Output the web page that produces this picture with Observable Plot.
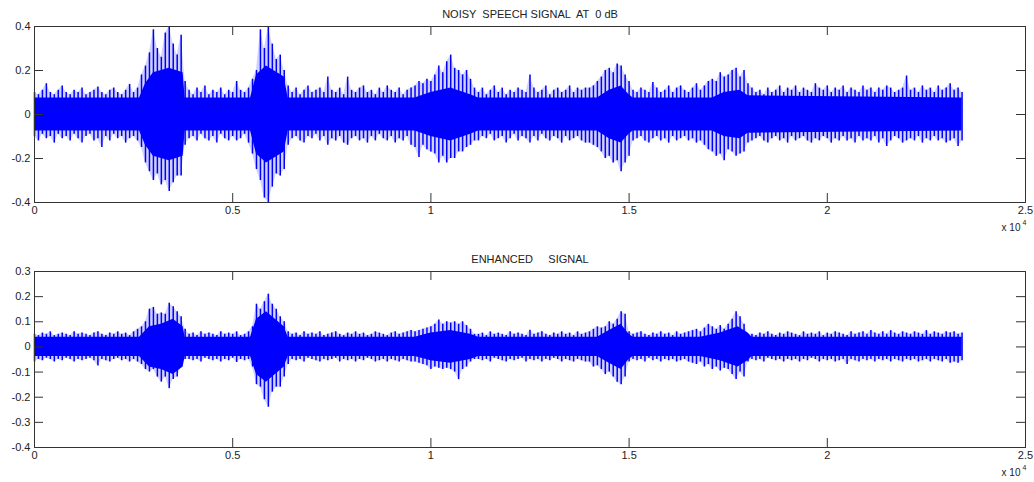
<!DOCTYPE html>
<html><head><meta charset="utf-8">
<script src="https://cdn.jsdelivr.net/npm/d3@7"></script>
<script src="https://cdn.jsdelivr.net/npm/@observablehq/plot@0.6"></script>
<style>
html,body{margin:0;padding:0;background:#fff;overflow:hidden;}
#chart svg{display:block;}
svg text{white-space:pre;}
</style></head><body><div id="chart"></div>
<script>
// sample-bin width (samples) for the peak envelopes below
const binStep = 100;

// NOISY SPEECH SIGNAL AT 0 dB : per-bin positive / negative peaks (bins of 100 samples, 0 .. 23400)
const noisyUpper = [
  0.10,0.09,0.11,0.14,0.10,0.09,0.11,0.13,0.10,0.09,0.11,0.10,0.12,0.09,0.10,0.11,0.125,0.10,0.09,0.11,0.12,0.10,0.09,0.11,0.137,0.10,0.12,
  0.18,0.22,0.28,0.385,0.30,0.26,0.37,0.40,0.32,0.27,0.36,0.15,
  0.11,0.09,0.12,0.10,0.13,0.09,0.11,0.10,0.12,0.09,0.11,0.10,0.15,0.11,0.10,0.12,
  0.16,0.20,0.385,0.30,0.40,0.32,0.25,0.27,0.20,0.13,
  0.10,0.12,0.09,0.11,0.13,0.10,0.11,0.12,0.10,0.17,0.11,0.10,0.12,0.09,0.17,0.11,0.10,0.12,0.13,0.10,0.11,0.09,0.12,0.10,0.13,0.11,0.10,0.12,0.09,0.11,0.12,
  0.13,0.15,0.14,0.16,0.15,0.18,0.22,0.19,0.24,0.27,0.21,0.20,0.18,0.20,0.16,
  0.12,
  0.10,0.12,0.09,0.11,0.13,0.10,0.12,0.09,0.11,0.10,0.12,0.11,0.10,0.18,0.12,0.10,0.11,0.13,0.09,0.11,0.12,0.10,0.11,0.13,0.10,0.12,0.11,0.12,
  0.12,0.13,0.15,0.17,0.20,0.21,0.19,0.23,0.22,0.18,0.15,
  0.11,0.10,0.12,0.11,0.10,0.145,0.12,0.10,0.11,0.13,0.10,0.12,0.13,0.11,0.10,0.12,0.14,0.11,0.13,0.15,
  0.16,0.15,0.19,0.17,0.18,0.20,0.21,0.17,0.20,0.14,
  0.12,0.10,0.11,0.09,0.12,0.10,0.11,0.13,0.10,0.12,
  0.11,0.13,0.10,0.12,0.11,0.10,0.14,0.12,0.11,0.13,
  0.10,0.12,0.11,0.13,0.10,0.12,0.11,0.10,0.13,0.11,
  0.12,0.10,0.12,0.11,0.13,0.12,0.10,0.11,0.12,0.175,
  0.11,0.12,0.10,0.13,0.11,0.12,0.10,0.13,0.11,0.12,
  0.14,0.11,0.12,0.10];
const noisyLower = [
  -0.10,-0.12,-0.09,-0.11,-0.10,-0.13,-0.09,-0.11,-0.10,-0.12,-0.09,-0.11,-0.13,-0.10,-0.09,-0.12,-0.11,-0.15,-0.10,-0.12,-0.09,-0.11,-0.10,-0.13,-0.11,-0.10,-0.12,
  -0.15,-0.22,-0.26,-0.30,-0.27,-0.32,-0.30,-0.35,-0.31,-0.28,-0.28,-0.14,
  -0.11,-0.10,-0.12,-0.09,-0.11,-0.12,-0.10,-0.13,-0.09,-0.11,-0.12,-0.10,-0.12,-0.11,-0.09,-0.13,
  -0.18,-0.25,-0.30,-0.38,-0.40,-0.33,-0.27,-0.28,-0.25,-0.14,
  -0.11,-0.10,-0.12,-0.13,-0.10,-0.11,-0.09,-0.12,-0.10,-0.14,-0.11,-0.12,-0.10,-0.13,-0.14,-0.11,-0.10,-0.12,-0.11,-0.13,-0.10,-0.12,-0.09,-0.11,-0.12,-0.10,-0.13,-0.11,-0.12,-0.10,-0.14,
  -0.15,-0.195,-0.14,-0.16,-0.17,-0.18,-0.22,-0.19,-0.22,-0.20,-0.20,-0.17,-0.17,-0.15,-0.14,
  -0.12,
  -0.12,-0.10,-0.11,-0.09,-0.12,-0.11,-0.10,-0.13,-0.11,-0.09,-0.12,-0.10,-0.11,-0.13,-0.10,-0.12,-0.09,-0.11,-0.12,-0.10,-0.11,-0.13,-0.10,-0.12,-0.11,-0.10,-0.12,-0.13,
  -0.13,-0.14,-0.15,-0.17,-0.20,-0.19,-0.22,-0.21,-0.26,-0.22,-0.19,
  -0.12,-0.11,-0.10,-0.12,-0.13,-0.11,-0.10,-0.12,-0.11,-0.13,-0.10,-0.12,-0.11,-0.10,-0.12,-0.11,-0.13,-0.12,-0.14,-0.16,
  -0.17,-0.19,-0.18,-0.21,-0.16,-0.17,-0.19,-0.18,-0.17,-0.13,
  -0.12,-0.11,-0.10,-0.12,-0.13,-0.11,-0.10,-0.12,-0.11,-0.13,
  -0.10,-0.12,-0.11,-0.10,-0.12,-0.13,-0.11,-0.12,-0.10,-0.11,
  -0.13,-0.11,-0.12,-0.10,-0.12,-0.11,-0.13,-0.10,-0.12,-0.11,
  -0.12,-0.10,-0.13,-0.11,-0.145,-0.12,-0.10,-0.11,-0.13,-0.12,
  -0.11,-0.12,-0.10,-0.13,-0.11,-0.12,-0.10,-0.12,-0.11,-0.13,
  -0.12,-0.11,-0.145,-0.12];
// dense (solid) core amplitude of the noisy signal
const noisyCoreX   = [0,2650,2800,3000,3400,3750,3800,5450,5600,5850,6300,6400,9600,10000,10500,11000,11200,14200,14500,14800,15000,15100,17100,17400,17800,18000,23400];
const noisyCoreAmp = [0.075,0.075,0.14,0.19,0.21,0.19,0.075,0.075,0.18,0.22,0.17,0.075,0.075,0.1,0.12,0.09,0.075,0.075,0.11,0.13,0.09,0.075,0.075,0.1,0.11,0.085,0.075];

// ENHANCED SIGNAL : per-bin positive / negative peaks (bins of 100 samples, 0 .. 23400)
const enhUpper = [
  0.05,0.045,0.055,0.05,0.06,0.045,0.05,0.055,0.05,0.045,0.06,0.05,0.055,0.05,0.045,0.055,0.06,0.05,0.045,0.055,0.05,0.06,0.05,0.055,0.045,0.06,0.07,
  0.08,0.10,0.15,0.157,0.13,0.135,0.13,0.174,0.16,0.14,0.12,0.07,
  0.05,0.055,0.045,0.06,0.05,0.055,0.05,0.045,0.06,0.05,0.055,0.05,0.06,0.045,0.05,0.06,
  0.08,0.17,0.15,0.18,0.21,0.17,0.15,0.12,0.10,0.06,
  0.05,0.055,0.045,0.06,0.05,0.055,0.05,0.06,0.045,0.05,0.055,0.06,0.05,0.045,0.055,0.05,0.06,0.05,0.055,0.045,0.05,0.06,0.055,0.05,0.045,0.055,0.06,0.05,0.055,0.06,0.065,
  0.06,0.065,0.07,0.075,0.08,0.09,0.107,0.09,0.10,0.095,0.10,0.09,0.10,0.085,0.07,
  0.05,
  0.05,0.055,0.045,0.06,0.05,0.055,0.05,0.045,0.06,0.05,0.055,0.05,0.045,0.066,0.05,0.055,0.06,0.05,0.045,0.055,0.05,0.06,0.05,0.055,0.045,0.06,0.05,0.055,
  0.06,0.07,0.08,0.075,0.08,0.10,0.09,0.11,0.14,0.13,0.06,
  0.05,0.055,0.06,0.05,0.045,0.055,0.05,0.06,0.05,0.055,0.045,0.06,0.05,0.055,0.06,0.065,0.07,0.06,0.075,0.09,
  0.08,0.07,0.085,0.07,0.09,0.11,0.14,0.12,0.09,0.05,
  0.05,0.045,0.055,0.05,0.06,0.05,0.045,0.055,0.05,0.06,
  0.055,0.05,0.045,0.06,0.05,0.055,0.05,0.06,0.045,0.055,
  0.05,0.06,0.055,0.05,0.045,0.06,0.05,0.055,0.06,0.05,
  0.065,0.055,0.05,0.06,0.05,0.065,0.055,0.05,0.06,0.055,
  0.05,0.06,0.055,0.05,0.065,0.05,0.06,0.055,0.05,0.06,
  0.055,0.06,0.05,0.055];
const enhLower = [
  -0.06,-0.05,-0.055,-0.045,-0.05,-0.06,-0.05,-0.055,-0.045,-0.05,-0.06,-0.05,-0.055,-0.05,-0.045,-0.055,-0.076,-0.05,-0.055,-0.06,-0.05,-0.045,-0.055,-0.05,-0.06,-0.05,-0.06,
  -0.07,-0.09,-0.10,-0.09,-0.12,-0.14,-0.12,-0.166,-0.13,-0.12,-0.08,-0.05,
  -0.05,-0.055,-0.05,-0.06,-0.045,-0.05,-0.055,-0.05,-0.06,-0.05,-0.055,-0.045,-0.062,-0.05,-0.055,-0.05,
  -0.08,-0.15,-0.16,-0.21,-0.24,-0.18,-0.16,-0.16,-0.12,-0.07,
  -0.05,-0.055,-0.05,-0.06,-0.045,-0.05,-0.055,-0.06,-0.05,-0.055,-0.05,-0.045,-0.06,-0.05,-0.055,-0.05,-0.06,-0.05,-0.055,-0.045,-0.05,-0.06,-0.055,-0.05,-0.06,-0.05,-0.055,-0.06,-0.05,-0.055,-0.06,
  -0.06,-0.065,-0.07,-0.075,-0.09,-0.08,-0.085,-0.09,-0.085,-0.09,-0.10,-0.13,-0.09,-0.08,-0.06,
  -0.05,
  -0.05,-0.055,-0.05,-0.06,-0.045,-0.05,-0.055,-0.06,-0.05,-0.055,-0.05,-0.045,-0.06,-0.05,-0.055,-0.05,-0.06,-0.05,-0.055,-0.045,-0.05,-0.06,-0.05,-0.055,-0.06,-0.05,-0.055,-0.06,
  -0.06,-0.08,-0.075,-0.09,-0.11,-0.10,-0.12,-0.14,-0.15,-0.12,-0.06,
  -0.05,-0.055,-0.05,-0.06,-0.045,-0.055,-0.05,-0.06,-0.05,-0.055,-0.05,-0.06,-0.055,-0.05,-0.06,-0.065,-0.07,-0.06,-0.08,-0.07,
  -0.09,-0.08,-0.096,-0.085,-0.09,-0.11,-0.13,-0.10,-0.12,-0.06,
  -0.05,-0.055,-0.05,-0.06,-0.045,-0.05,-0.055,-0.05,-0.06,-0.05,
  -0.055,-0.05,-0.06,-0.05,-0.055,-0.045,-0.05,-0.06,-0.05,-0.055,
  -0.05,-0.06,-0.055,-0.05,-0.07,-0.05,-0.055,-0.06,-0.05,-0.055,
  -0.05,-0.06,-0.05,-0.055,-0.05,-0.06,-0.05,-0.055,-0.06,-0.05,
  -0.055,-0.05,-0.06,-0.055,-0.05,-0.06,-0.05,-0.055,-0.06,-0.05,
  -0.065,-0.06,-0.065,-0.055];
const enhCoreX   = [0,2650,2900,3200,3500,3750,3800,5450,5600,5850,6300,6400,9600,10000,10500,11000,11200,14200,14500,14800,15000,15100,16800,17300,17750,18000,18100,23400];
const enhCoreAmp = [0.038,0.038,0.08,0.09,0.11,0.08,0.038,0.038,0.11,0.14,0.08,0.038,0.038,0.055,0.065,0.05,0.038,0.038,0.065,0.09,0.05,0.038,0.038,0.055,0.08,0.055,0.038,0.038];

// axes
const xTicks = [0, 5000, 10000, 15000, 20000, 25000];
const noisyYTicks = [-0.4, -0.2, 0, 0.2, 0.4];
const enhYTicks = [-0.4, -0.3, -0.2, -0.1, 0, 0.1, 0.2, 0.3];
const titles = ["NOISY  SPEECH SIGNAL  AT  0 dB", "ENHANCED     SIGNAL"];

const BLUE = "#0000ff", INK = "#222";

function panel({title, upper, lower, coreX, coreAmp, yDomain, yTicks, height, marginTop, marginBottom}) {
  const W = 1034, ml = 34, mr = 9, tick = 9;
  const innerW = W - ml - mr, innerH = height - marginTop - marginBottom;
  const bins = upper.map((v, i) => ({x: i * binStep, hi: v, lo: lower[i]}));
  const core = coreX.map((x, i) => ({x, a: coreAmp[i]}));
  return Plot.plot({
    width: W, height, marginLeft: ml, marginRight: mr, marginTop, marginBottom,
    style: {fontFamily: "'Liberation Sans', Arial, Helvetica, sans-serif", fontSize: "11px", color: INK, background: "#fff", overflow: "visible"},
    x: {domain: [0, 25000], label: null},
    y: {domain: yDomain, label: null},
    marks: [
      // faint peak envelope between the individual spikes
      Plot.areaY(bins, {x: "x", y1: "lo", y2: "hi", fill: BLUE, fillOpacity: 0.18}),
      // dense core of the waveform
      Plot.areaY(core, {x: "x", y1: d => -d.a, y2: d => d.a, fill: BLUE}),
      // individual peaks (one per 100-sample bin)
      Plot.ruleX(bins, {x: "x", y1: "lo", y2: "hi", stroke: BLUE, strokeWidth: 1.5}),
      Plot.frame({stroke: "#333"}),
      Plot.tickX(xTicks, {x: d => d, insetTop: innerH - tick, stroke: "#333"}),
      Plot.tickX(xTicks, {x: d => d, insetBottom: innerH - tick, stroke: "#333"}),
      Plot.tickY(yTicks, {y: d => d, insetRight: innerW - tick, stroke: "#333"}),
      Plot.tickY(yTicks, {y: d => d, insetLeft: innerW - tick, stroke: "#333"}),
      Plot.axisX(xTicks, {tickSize: 0, tickPadding: 4, tickFormat: d => String(d / 1e4), fill: INK, label: null}),
      Plot.axisY(yTicks, {tickSize: 0, tickPadding: 4, tickFormat: d => String(d), fill: INK, label: null}),
      Plot.text([title], {frameAnchor: "top", dy: -12, text: d => d, fill: INK, lineAnchor: "middle"}),
      Plot.text(["x 10"], {frameAnchor: "bottom-right", text: d => d, textAnchor: "end", dx: -5, dy: 28, fill: INK, fontSize: 10}),
      Plot.text(["4"], {frameAnchor: "bottom-right", text: d => d, textAnchor: "start", dx: -3, dy: 22, fill: INK, fontSize: 7})
    ]
  });
}

const chart = document.getElementById("chart");
chart.append(panel({title: titles[0], upper: noisyUpper, lower: noisyLower, coreX: noisyCoreX, coreAmp: noisyCoreAmp,
  yDomain: [-0.4, 0.4], yTicks: noisyYTicks, height: 241, marginTop: 26, marginBottom: 39}));
chart.append(panel({title: titles[1], upper: enhUpper, lower: enhLower, coreX: enhCoreX, coreAmp: enhCoreAmp,
  yDomain: [-0.4, 0.3], yTicks: enhYTicks, height: 241, marginTop: 30, marginBottom: 35}));
</script></body></html>
